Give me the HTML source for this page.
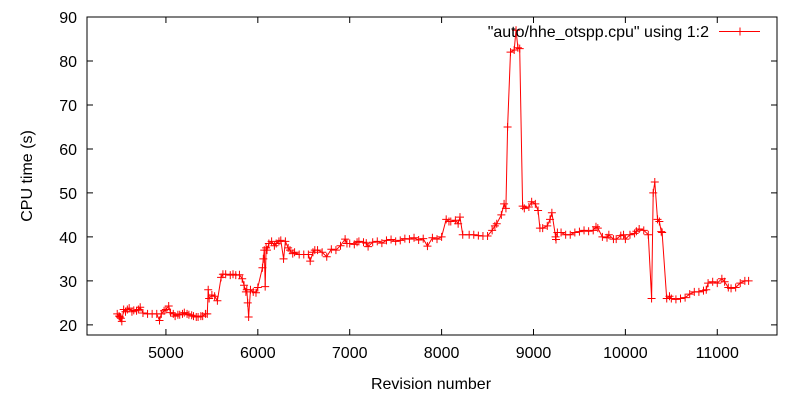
<!DOCTYPE html>
<html><head><meta charset="utf-8"><style>
body{margin:0;background:#fff}
svg{display:block;font-family:"Liberation Sans",sans-serif}
</style></head><body>
<svg id="chart" width="800" height="400" viewBox="0 0 800 400">
<rect x="87" y="17" width="690" height="318" fill="none" stroke="#000" stroke-width="1"/>
<g id="axes"></g>
<g id="series"></g>
<text x="32" y="176" font-size="16" text-anchor="middle" transform="rotate(-90 32 176)">CPU time (s)</text>
<text x="431" y="389" font-size="16" text-anchor="middle">Revision number</text>
<g>
<text x="709" y="37" font-size="16" text-anchor="end">"auto/hhe_otspp.cpu" using 1:2</text>
<line x1="719" y1="31.5" x2="760" y2="31.5" stroke="#f00"/>
<path d="M736,31.5h8M740,27.5v8" stroke="#f00"/>
</g>
</svg>
<script>
const xTicks=[5000,6000,7000,8000,9000,10000,11000];
const yTicks=[20,30,40,50,60,70,80,90];
const revisions=[4470,4490,4500,4510,4520,4540,4560,4580,4600,4630,4650,4680,4700,4720,4750,4800,4850,4900,4930,4950,4980,5000,5030,5050,5080,5100,5130,5150,5180,5200,5230,5250,5280,5300,5330,5350,5380,5400,5430,5450,5460,5470,5500,5530,5560,5600,5620,5650,5700,5730,5760,5800,5830,5850,5870,5880,5890,5900,5920,5950,5980,6000,6050,6060,6070,6080,6090,6100,6120,6150,6180,6200,6230,6250,6280,6300,6330,6350,6380,6400,6450,6500,6550,6570,6600,6620,6650,6700,6750,6800,6850,6900,6950,6970,7000,7050,7080,7100,7150,7180,7200,7250,7300,7350,7400,7450,7500,7550,7600,7650,7700,7750,7800,7846,7900,7950,8000,8050,8080,8100,8150,8180,8200,8230,8300,8350,8400,8450,8500,8550,8580,8600,8650,8680,8700,8718,8750,8790,8810,8830,8850,8882,8900,8950,8980,9020,9050,9070,9100,9150,9180,9200,9245,9240,9260,9300,9350,9400,9450,9500,9550,9600,9650,9680,9700,9750,9800,9820,9870,9900,9950,9980,10000,10050,10100,10120,10150,10200,10249,10285,10303,10320,10350,10370,10390,10400,10450,10480,10500,10550,10600,10650,10700,10750,10800,10850,10880,10900,10950,11000,11050,11080,11120,11150,11200,11250,11300,11341];
const cpuTimes=[22.5,22,21.8,21.5,20.8,23.5,23,23.5,23.8,23,23.3,23.2,23.5,24,22.7,22.5,22.5,22.5,21,22.5,23.2,23.5,24.3,22.8,22.5,22,22.3,22.3,22.5,22.8,22.5,22.3,22.2,22,21.8,21.8,22,22,22.5,22.5,28,26,26.8,26.5,25.5,30.8,31.5,31.5,31.3,31.5,31.3,31.4,30.5,29,27.5,28,25,21.8,28,27.5,27.3,28.5,33,35,37,28.7,37.5,37,38.5,39,38,38.5,39,39.2,35,39,37.5,37,36.2,36.5,36,36,36,34.5,36.5,37,37,36.5,35.5,37.2,37,38,39.5,38.5,38.5,38.3,38.8,39,38.8,38.6,37.8,38.8,39,38.6,39.2,39.4,39,39.2,39.6,39.5,39.8,39.3,39.6,37.9,39.8,39.5,40,44,43.5,43.5,43.8,43,44.5,40.5,40.5,40.5,40.3,40.2,40.2,41.5,42.5,43,45,47.5,46.5,65,82,82.5,87,83,82.8,47,46.5,46.8,48,47.5,46,42,42,42.5,44,45.5,39.4,40,41,41,40.5,40.5,41,41.2,41.5,41.3,41.5,42.3,42,40,39.8,40.5,39.5,39.5,40.3,40.5,39.5,40.5,40.8,41.3,41.8,41.5,40.5,26,50,52.5,44,43.5,41.2,41,26,26.5,26,25.8,26,26.2,27,27.5,27.5,27.8,28,29.5,29.8,29.5,30.5,29.8,28.5,28.3,28.5,29.5,30,30,30.2];
const X0=87,X1=777,Y0=335,Y1=17;
const R0=4141,R1=11650,V0=17.7,V1=90;
function sx(r){return X0+(r-R0)/(R1-R0)*(X1-X0);}
function sy(v){return Y0-(v-V0)/(V1-V0)*(Y0-Y1);}
const NS="http://www.w3.org/2000/svg";
const axes=document.getElementById('axes');
const series=document.getElementById('series');
function mk(tag,attrs,parent){const e=document.createElementNS(NS,tag);for(const k in attrs)e.setAttribute(k,attrs[k]);parent.appendChild(e);return e;}
xTicks.forEach(t=>{
  const x=sx(t);
  const p=mk('path',{d:`M${x},${Y0}v-6M${x},${Y1}v6`,stroke:'#000'},axes);
  
  
  const tx=mk('text',{x:x,y:Y0+23,'font-size':16,'text-anchor':'middle'},axes);
  tx.textContent=t;
  
  
});
yTicks.forEach(t=>{
  const y=sy(t);
  const p=mk('path',{d:`M${X0},${y}h6M${X1},${y}h-6`,stroke:'#000'},axes);
  
  
  const tx=mk('text',{x:X0-10,y:y+6,'font-size':16,'text-anchor':'end'},axes);
  tx.textContent=t;
  
  
});
let d='';
revisions.forEach((r,i)=>{d+=(i?'L':'M')+sx(r).toFixed(1)+','+sy(cpuTimes[i]).toFixed(1);});
const line=mk('path',{d:d,fill:'none',stroke:'#f00','stroke-width':1},series);


revisions.forEach((r,i)=>{
  const x=sx(r),y=sy(cpuTimes[i]);
  const m=mk('path',{d:`M${x-4},${y}h8M${x},${y-4}v8`,stroke:'#f00','stroke-width':1},series);
  
  
});
</script>
</body></html>
